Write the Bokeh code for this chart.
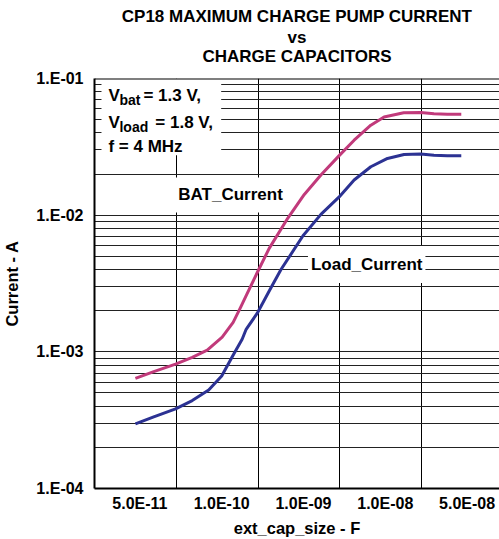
from bokeh.plotting import figure
from bokeh.models import FixedTicker, Label, BoxAnnotation, Span, Title
from bokeh.embed import file_html
from bokeh.resources import INLINE

# ---- data (x = position along the category axis, 0 = left edge) ----
tick_labels = ["5.0E-11", "1.0E-10", "1.0E-09", "1.0E-08", "5.0E-08"]

bat_x = [0.500, 0.716, 0.991, 1.195, 1.378, 1.561, 1.695, 1.780, 1.866, 1.996,
         2.134, 2.366, 2.565, 2.768, 2.991, 3.174, 3.378, 3.540, 3.780, 3.988,
         4.150, 4.313, 4.484]
bat_current = [6.40e-4, 7.14e-4, 8.13e-4, 9.10e-4, 1.028e-3, 1.279e-3, 1.644e-3,
               2.08e-3, 2.67e-3, 3.87e-3, 5.69e-3, 9.56e-3, 1.418e-2, 1.966e-2,
               2.727e-2, 3.536e-2, 4.55e-2, 5.23e-2, 5.61e-2, 5.63e-2, 5.53e-2,
               5.47e-2, 5.47e-2]

load_x = [0.500, 0.716, 0.991, 1.195, 1.396, 1.555, 1.701, 1.805, 1.854, 1.988,
          2.159, 2.280, 2.549, 2.768, 2.991, 3.174, 3.378, 3.582, 3.784, 3.988,
          4.150, 4.313, 4.484]
load_current = [2.97e-4, 3.33e-4, 3.82e-4, 4.40e-4, 5.26e-4, 6.65e-4, 9.61e-4,
                1.236e-3, 1.462e-3, 1.91e-3, 2.96e-3, 4.00e-3, 7.07e-3, 1.014e-2,
                1.36e-2, 1.808e-2, 2.26e-2, 2.60e-2, 2.78e-2, 2.80e-2, 2.74e-2,
                2.72e-2, 2.72e-2]

y_major = [1e-4, 1e-3, 1e-2, 1e-1]
y_major_labels = ["1.E-04", "1.E-03", "1.E-02", "1.E-01"]

# ---- layout helpers (page pixel -> data coords, for text placement) ----
FL, FT, PXU, PXD = 93.0, 78.0, 82.0, 137.33
def dx(px):
    return (px - FL) / PXU
def dy(py):
    return 10 ** (-1 - (py - FT) / PXD)

FONT = "Liberation Sans"

p = figure(width=499, height=539, x_range=(0, (499 - FL) / PXU), y_range=(1e-4, 1e-1),
           y_axis_type="log", output_backend="svg", toolbar_location=None,
           min_border_left=93, min_border_right=0, min_border_top=78, min_border_bottom=49)
p.outline_line_color = None
p.background_fill_color = "white"
p.border_fill_color = "white"

# titles (stacked outward from the plot; first one is only a spacer)
def title_style(t, standoff, size="17px"):
    t.text_font = FONT
    t.text_font_style = "bold"
    t.text_font_size = size
    t.text_color = "black"
    t.align = "center"
    t.standoff = standoff
    return t

p.add_layout(title_style(Title(text=" "), 11, size="1px"), "above")
p.add_layout(title_style(Title(text="CHARGE CAPACITORS"), -2), "above")
p.add_layout(title_style(Title(text="vs"), -2), "above")
p.title.text = "CP18 MAXIMUM CHARGE PUMP CURRENT"
title_style(p.title, 2)

# axes
xt = [i + 0.555 for i in range(len(tick_labels))]
p.xaxis.ticker = FixedTicker(ticks=xt)
p.xaxis.major_label_overrides = {t: l for t, l in zip(xt, tick_labels)}
p.yaxis.ticker = FixedTicker(ticks=y_major)
p.yaxis.major_label_overrides = {t: l for t, l in zip(y_major, y_major_labels)}
for ax in (p.xaxis[0], p.yaxis[0]):
    ax.axis_line_width = 2
    ax.axis_line_color = "black"
    ax.major_tick_line_color = None
    ax.minor_tick_line_color = None
    ax.major_tick_out = 0
    ax.major_tick_in = 0
    ax.minor_tick_out = 0
    ax.minor_tick_in = 0
    ax.major_label_text_font = FONT
    ax.major_label_text_font_style = "bold"
    ax.major_label_text_font_size = "16px"
    ax.major_label_text_color = "black"
    ax.axis_label_text_font = FONT
    ax.axis_label_text_font_style = "bold"
    ax.axis_label_text_font_size = "16.5px"
    ax.axis_label_text_color = "black"
p.xaxis.major_label_standoff = 6
p.yaxis.major_label_standoff = 11
p.xaxis.axis_label = "ext_cap_size - F"
p.yaxis.axis_label = "Current - A"
p.xaxis.axis_label_standoff = 4
p.yaxis.axis_label_standoff = 12

# grids
p.xgrid.ticker = FixedTicker(ticks=[1, 2, 3, 4])
p.xgrid.grid_line_color = "black"
p.xgrid.grid_line_width = 1
yg = [m * 10.0 ** e for e in (-4, -3, -2) for m in range(1, 10)] + [1e-1]
p.ygrid.ticker = FixedTicker(ticks=yg)
p.ygrid.grid_line_color = "#222222"
p.ygrid.grid_line_width = 1
p.ygrid.minor_grid_line_color = None

# curves
p.line(bat_x, bat_current, line_color="#C13A7B", line_width=3, line_join="round")
p.line(load_x, load_current, line_color="#2C3293", line_width=3, line_join="round")

# white box behind the conditions text
p.add_layout(BoxAnnotation(left=dx(100), right=dx(220), top=1e-1, bottom=dy(155),
                           fill_color="white", fill_alpha=1, line_color=None))

def lab(x, y, text, size="17px", align="left", baseline="alphabetic", **kw):
    l = Label(x=x, y=y, text=text, text_font=FONT, text_font_style="bold",
              text_font_size=size, text_align=align, text_baseline=baseline,
              text_color="black", **kw)
    p.add_layout(l)
    return l

# conditions
lab(dx(107), dy(95), "V")
lab(dx(118), dy(100), "bat", size="14px")
lab(dx(142), dy(95), "= 1.3 V,")
lab(dx(107), dy(122), "V")
lab(dx(118), dy(127), "load", size="14px")
lab(dx(154), dy(122), "= 1.8 V,")
lab(dx(107), dy(146), "f = 4 MHz")

# series labels
lab(dx(171), dy(195), "BAT_Current", background_fill_color="white",
    background_fill_alpha=1, padding=(6, 8))
lab(dx(307), dy(265), "Load_Current", background_fill_color="white",
    background_fill_alpha=1, padding=(3, 9))

# top border line
p.add_layout(Span(location=1e-1, dimension="width", line_color="black", line_width=2))

open("out.html", "w").write(file_html(p, INLINE))
